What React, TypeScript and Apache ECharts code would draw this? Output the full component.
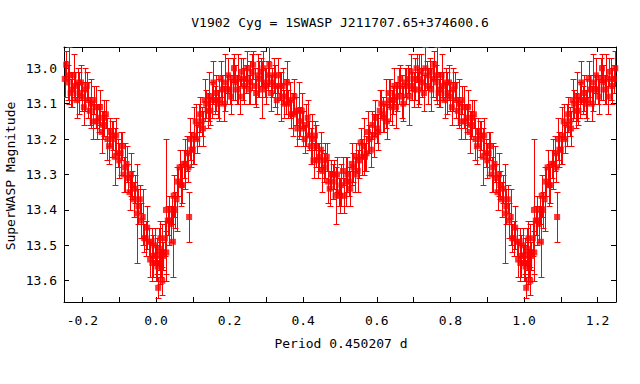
import React, { useEffect, useRef } from "react";
import * as echarts from "echarts";

const titleText = "V1902 Cyg = 1SWASP J211707.65+374600.6";
const xName = "Period 0.450207 d";
const yName = "SuperWASP Magnitude";

const xMin = -0.25;
const xMax = 1.25;
const yMin = 12.94;
const yMax = 13.66;
const xTickValues = [-0.2, -0.1, 0, 0.1, 0.2, 0.3, 0.4, 0.5, 0.6, 0.7, 0.8, 0.9, 1.0, 1.1, 1.2];
const xLabelValues = [-0.2, 0, 0.2, 0.4, 0.6, 0.8, 1.0, 1.2];
const yTickValues = [13.0, 13.1, 13.2, 13.3, 13.4, 13.5, 13.6];

// [phase, magnitude, error]
const obs: [number, number, number][] = [
  [0.000, 13.55, 0.05], [0.004, 13.56, 0.04], [0.008, 13.51, 0.06], [0.012, 13.48, 0.05], [0.016, 13.52, 0.08],
  [0.020, 13.53, 0.04], [0.024, 13.48, 0.05], [0.028, 13.52, 0.06], [0.032, 13.43, 0.04], [0.036, 13.43, 0.07],
  [0.040, 13.44, 0.05], [0.044, 13.40, 0.04], [0.048, 13.36, 0.06], [0.052, 13.40, 0.05], [0.056, 13.37, 0.09],
  [0.060, 13.32, 0.04], [0.064, 13.28, 0.05], [0.068, 13.33, 0.06], [0.072, 13.33, 0.05], [0.076, 13.27, 0.04],
  [0.080, 13.27, 0.07], [0.084, 13.24, 0.05], [0.088, 13.28, 0.04], [0.092, 13.20, 0.06], [0.096, 13.23, 0.05],
  [0.100, 13.23, 0.04], [0.104, 13.19, 0.08], [0.108, 13.15, 0.05], [0.112, 13.20, 0.04], [0.116, 13.16, 0.06],
  [0.120, 13.13, 0.05], [0.124, 13.15, 0.04], [0.128, 13.17, 0.05], [0.132, 13.09, 0.06], [0.136, 13.10, 0.04],
  [0.140, 13.12, 0.05], [0.144, 13.08, 0.07], [0.148, 13.12, 0.04], [0.152, 13.09, 0.05], [0.156, 13.04, 0.06],
  [0.160, 13.09, 0.04], [0.164, 13.07, 0.05], [0.168, 13.10, 0.04], [0.172, 13.09, 0.06], [0.176, 13.03, 0.05],
  [0.180, 13.06, 0.04], [0.184, 13.10, 0.05], [0.188, 13.04, 0.08], [0.192, 13.06, 0.04], [0.196, 13.02, 0.05],
  [0.200, 13.06, 0.04], [0.204, 13.08, 0.05], [0.208, 13.03, 0.06], [0.212, 13.00, 0.04], [0.216, 13.04, 0.05],
  [0.220, 13.06, 0.04], [0.224, 13.03, 0.07], [0.228, 13.08, 0.05], [0.232, 13.01, 0.04], [0.236, 13.03, 0.06],
  [0.240, 13.05, 0.05], [0.244, 13.03, 0.04], [0.248, 13.00, 0.05], [0.252, 13.06, 0.04], [0.256, 13.04, 0.06],
  [0.260, 13.01, 0.05], [0.264, 12.99, 0.04], [0.268, 13.05, 0.05], [0.272, 13.07, 0.04], [0.276, 13.02, 0.06],
  [0.280, 13.03, 0.05], [0.284, 13.01, 0.04], [0.288, 13.06, 0.08], [0.292, 13.00, 0.05], [0.296, 13.04, 0.04],
  [0.300, 13.05, 0.05], [0.304, 13.02, 0.04], [0.308, 12.99, 0.06], [0.312, 13.07, 0.05], [0.316, 13.04, 0.04],
  [0.320, 13.02, 0.05], [0.324, 13.05, 0.06], [0.328, 13.09, 0.04], [0.332, 13.02, 0.05], [0.336, 13.05, 0.04],
  [0.340, 13.08, 0.07], [0.344, 13.05, 0.05], [0.348, 13.10, 0.04], [0.352, 13.08, 0.05], [0.356, 13.04, 0.06],
  [0.360, 13.10, 0.04], [0.364, 13.09, 0.05], [0.368, 13.13, 0.04], [0.372, 13.13, 0.06], [0.376, 13.08, 0.05],
  [0.380, 13.12, 0.04], [0.384, 13.17, 0.05], [0.388, 13.12, 0.08], [0.392, 13.15, 0.04], [0.396, 13.12, 0.05],
  [0.400, 13.17, 0.05], [0.404, 13.20, 0.04], [0.408, 13.16, 0.06], [0.412, 13.14, 0.05], [0.416, 13.19, 0.04],
  [0.420, 13.22, 0.05], [0.424, 13.20, 0.07], [0.428, 13.26, 0.05], [0.432, 13.19, 0.04], [0.436, 13.22, 0.06],
  [0.440, 13.26, 0.05], [0.444, 13.25, 0.04], [0.448, 13.23, 0.05], [0.452, 13.29, 0.06], [0.456, 13.28, 0.04],
  [0.460, 13.26, 0.05], [0.464, 13.25, 0.04], [0.468, 13.32, 0.06], [0.472, 13.34, 0.05], [0.476, 13.30, 0.04],
  [0.480, 13.32, 0.05], [0.484, 13.30, 0.04], [0.488, 13.36, 0.08], [0.492, 13.30, 0.05], [0.496, 13.35, 0.04],
  [0.500, 13.36, 0.05], [0.504, 13.33, 0.06], [0.508, 13.29, 0.04], [0.512, 13.36, 0.05], [0.516, 13.32, 0.07],
  [0.520, 13.30, 0.05], [0.524, 13.32, 0.04], [0.528, 13.34, 0.05], [0.532, 13.27, 0.06], [0.536, 13.28, 0.04],
  [0.540, 13.30, 0.05], [0.544, 13.25, 0.04], [0.548, 13.29, 0.06], [0.552, 13.26, 0.05], [0.556, 13.21, 0.04],
  [0.560, 13.25, 0.05], [0.564, 13.22, 0.08], [0.568, 13.25, 0.04], [0.572, 13.24, 0.05], [0.576, 13.18, 0.06],
  [0.580, 13.20, 0.04], [0.584, 13.23, 0.05], [0.588, 13.16, 0.04], [0.592, 13.19, 0.06], [0.596, 13.14, 0.05],
  [0.600, 13.17, 0.04], [0.604, 13.18, 0.05], [0.608, 13.12, 0.06], [0.612, 13.10, 0.04], [0.616, 13.13, 0.05],
  [0.620, 13.14, 0.04], [0.624, 13.10, 0.07], [0.628, 13.15, 0.05], [0.632, 13.07, 0.04], [0.636, 13.09, 0.06],
  [0.640, 13.11, 0.05], [0.644, 13.09, 0.04], [0.648, 13.05, 0.05], [0.652, 13.11, 0.06], [0.656, 13.08, 0.04],
  [0.660, 13.05, 0.05], [0.664, 13.03, 0.04], [0.668, 13.08, 0.06], [0.672, 13.10, 0.05], [0.676, 13.04, 0.04],
  [0.680, 13.05, 0.05], [0.684, 13.03, 0.04], [0.688, 13.08, 0.08], [0.692, 13.01, 0.05], [0.696, 13.05, 0.04],
  [0.700, 13.06, 0.05], [0.704, 13.03, 0.06], [0.708, 13.00, 0.04], [0.712, 13.06, 0.05], [0.716, 13.03, 0.07],
  [0.720, 13.01, 0.05], [0.724, 13.04, 0.04], [0.728, 13.07, 0.05], [0.732, 13.00, 0.06], [0.736, 13.02, 0.04],
  [0.740, 13.05, 0.05], [0.744, 13.01, 0.04], [0.748, 13.06, 0.06], [0.752, 13.03, 0.05], [0.756, 12.99, 0.04],
  [0.760, 13.04, 0.05], [0.764, 13.02, 0.08], [0.768, 13.07, 0.04], [0.772, 13.06, 0.05], [0.776, 13.02, 0.06],
  [0.780, 13.05, 0.04], [0.784, 13.09, 0.05], [0.788, 13.04, 0.04], [0.792, 13.07, 0.06], [0.796, 13.04, 0.05],
  [0.800, 13.08, 0.04], [0.804, 13.11, 0.05], [0.808, 13.06, 0.06], [0.812, 13.05, 0.04], [0.816, 13.09, 0.05],
  [0.820, 13.12, 0.04], [0.824, 13.10, 0.07], [0.828, 13.15, 0.05], [0.832, 13.09, 0.04], [0.836, 13.11, 0.06],
  [0.840, 13.15, 0.05], [0.844, 13.14, 0.04], [0.848, 13.11, 0.05], [0.852, 13.18, 0.06], [0.856, 13.16, 0.04],
  [0.860, 13.14, 0.05], [0.864, 13.13, 0.04], [0.868, 13.20, 0.06], [0.872, 13.22, 0.05], [0.876, 13.18, 0.04],
  [0.880, 13.20, 0.05], [0.884, 13.19, 0.04], [0.888, 13.25, 0.08], [0.892, 13.19, 0.05], [0.896, 13.24, 0.04],
  [0.900, 13.26, 0.05], [0.904, 13.24, 0.06], [0.908, 13.22, 0.04], [0.912, 13.30, 0.05], [0.916, 13.28, 0.07],
  [0.920, 13.27, 0.05], [0.924, 13.31, 0.04], [0.928, 13.35, 0.05], [0.932, 13.30, 0.06], [0.936, 13.33, 0.04],
  [0.940, 13.37, 0.05], [0.944, 13.34, 0.04], [0.948, 13.41, 0.14], [0.952, 13.39, 0.05], [0.956, 13.37, 0.04],
  [0.960, 13.43, 0.05], [0.964, 13.42, 0.08], [0.968, 13.48, 0.04], [0.972, 13.48, 0.05], [0.976, 13.45, 0.06],
  [0.980, 13.49, 0.04], [0.984, 13.54, 0.05], [0.988, 13.49, 0.04], [0.992, 13.53, 0.06], [0.996, 13.50, 0.05],
  [0.006, 13.62, 0.03], [0.017, 13.60, 0.04], [0.027, 13.40, 0.20], [0.046, 13.49, 0.10], [0.090, 13.42, 0.07],
  [0.990, 13.55, 0.05], [0.010, 13.55, 0.06], [0.002, 13.53, 0.05], [0.014, 13.55, 0.04],
];

const FONT = "DejaVu Sans Mono";
const RED = "#ff0000";

export default function App() {
  const ref = useRef<HTMLDivElement>(null);
  useEffect(() => {
    if (!ref.current) return;
    const chart = echarts.init(ref.current, undefined, { renderer: "svg" });

    const points: number[][] = [];
    for (const [p, m, e] of obs) {
      points.push([p, m, e]);
      if (p >= 0.75) points.push([p - 1, m, e]);
      if (p <= 0.25) points.push([p + 1, m, e]);
    }

    const axisCommon = {
      type: "value",
      axisLine: { show: true, onZero: false, lineStyle: { color: "#000", width: 1 } },
      splitLine: { show: false },
    };
    const fmt = (v: number) => v.toFixed(1);
    const tick = (vals: number[]) => ({ show: true, inside: true, length: 5, customValues: vals, lineStyle: { color: "#000" } });

    chart.setOption({
      animation: false,
      backgroundColor: "#fff",
      grid: { left: 64, right: 24, top: 47, bottom: 82, containLabel: false },
      xAxis: [
        {
          ...axisCommon, min: xMin, max: xMax, position: "bottom",
          axisTick: tick(xTickValues),
          axisLabel: { customValues: xLabelValues, formatter: fmt, color: "#000", fontFamily: FONT, fontSize: 13, margin: 12 },
        },
        {
          ...axisCommon, min: xMin, max: xMax, position: "top",
          axisTick: tick(xTickValues), axisLabel: { show: false },
        },
      ],
      yAxis: [
        {
          ...axisCommon, min: yMin, max: yMax, inverse: true, position: "left",
          axisTick: tick(yTickValues),
          axisLabel: { customValues: yTickValues, formatter: fmt, color: "#000", fontFamily: FONT, fontSize: 13, margin: 7 },
        },
        {
          ...axisCommon, min: yMin, max: yMax, inverse: true, position: "right",
          axisTick: tick(yTickValues), axisLabel: { show: false },
        },
      ],
      graphic: [
        { type: "text", x: 340, y: 22,
          style: { text: titleText, fill: "#000", font: `13px "${FONT}"`, textAlign: "center", textVerticalAlign: "middle" } },
        { type: "text", x: 341, y: 343,
          style: { text: xName, fill: "#000", font: `13px "${FONT}"`, textAlign: "center", textVerticalAlign: "middle" } },
        { type: "text", x: 10, y: 176, rotation: Math.PI / 2,
          style: { text: yName, fill: "#000", font: `13px "${FONT}"`, textAlign: "center", textVerticalAlign: "middle" } },
      ],
      series: [
        {
          type: "custom", xAxisIndex: 0, yAxisIndex: 0, clip: true,
          data: points, encode: { x: 0, y: 1 },
          renderItem: (_params: any, api: any) => {
            const x = api.value(0), m = api.value(1), e = api.value(2);
            const t = api.coord([x, m - e]);
            const b = api.coord([x, m + e]);
            const cx = Math.round(t[0]) + 0.5;
            const ty = Math.round(t[1]) + 0.5;
            const by = Math.round(b[1]) + 0.5;
            const w = 3;
            const st = { stroke: RED, lineWidth: 1 };
            return {
              type: "group",
              children: [
                { type: "line", shape: { x1: cx, y1: ty, x2: cx, y2: by }, style: st },
                { type: "line", shape: { x1: cx - w, y1: ty, x2: cx + w, y2: ty }, style: st },
                { type: "line", shape: { x1: cx - w, y1: by, x2: cx + w, y2: by }, style: st },
              ],
            };
          },
          z: 2,
        },
        {
          type: "scatter", xAxisIndex: 0, yAxisIndex: 0, clip: true,
          symbol: "rect", symbolSize: 6, itemStyle: { color: RED },
          data: points.map((d) => [d[0], d[1]]),
          z: 3,
        },
      ],
    });
    return () => chart.dispose();
  }, []);
  return <div ref={ref} style={{ position: "fixed", left: 0, top: 0, width: 640, height: 384 }} />;
}
